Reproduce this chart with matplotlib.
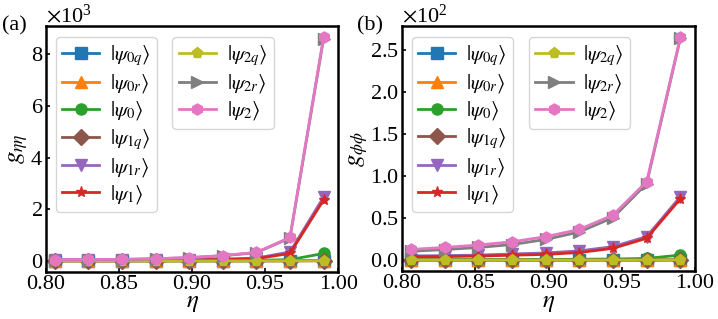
import matplotlib
matplotlib.use("Agg")
import matplotlib.pyplot as plt
from matplotlib.ticker import MultipleLocator

plt.rcParams['font.family'] = 'serif'
plt.rcParams['font.serif'] = ['Liberation Serif', 'DejaVu Serif']
plt.rcParams['mathtext.fontset'] = 'stix'

# eta grid
eta = [0.806, 0.829, 0.852, 0.875, 0.898, 0.921, 0.944, 0.967, 0.990]

# (a) g_eta_eta
ga_0q = [2, 2, 2, 3, 3, 4, 5, 7, 10]
ga_0r = [2, 2, 2, 3, 3, 4, 5, 7, 10]
ga_0 = [8, 9, 10, 12, 15, 20, 28, 50, 290]
ga_1q = [3, 3, 3, 4, 4, 5, 6, 8, 12]
ga_1r = [25, 28, 32, 38, 50, 70, 110, 350, 2470]
ga_1 = [20, 22, 25, 30, 40, 55, 90, 290, 2360]
ga_2q = [1, 1, 1, 2, 2, 3, 4, 5, 8]
ga_2r = [50, 52, 55, 85, 125, 200, 320, 890, 8600]
ga_2 = [55, 58, 62, 90, 130, 210, 330, 910, 8650]

# (b) g_phi_phi
gb_0q = [0.1, 0.1, 0.1, 0.1, 0.1, 0.1, 0.1, 0.1, 0.2]
gb_0r = [0.1, 0.1, 0.1, 0.1, 0.1, 0.1, 0.1, 0.1, 0.2]
gb_0 = [0.5, 0.5, 0.6, 0.7, 0.8, 1.0, 1.3, 2.0, 6.0]
gb_1q = [0.1, 0.1, 0.1, 0.1, 0.1, 0.1, 0.1, 0.1, 0.2]
gb_1r = [5.0, 5.3, 6.0, 7.3, 8.5, 11.0, 16.0, 28.0, 75.5]
gb_1 = [4.0, 4.2, 4.8, 5.8, 6.8, 9.0, 14.0, 26.0, 73.0]
gb_2q = [0.1, 0.1, 0.1, 0.1, 0.1, 0.1, 0.1, 0.1, 0.2]
gb_2r = [10.5, 12.5, 15.0, 18.5, 24.5, 33.5, 50.5, 91.0, 264.0]
gb_2 = [12.7, 15.1, 17.9, 21.8, 27.8, 36.5, 53.6, 93.3, 265.0]

labels = [r'$|\psi_{0q}\rangle$', r'$|\psi_{0r}\rangle$', r'$|\psi_{0}\rangle$',
          r'$|\psi_{1q}\rangle$', r'$|\psi_{1r}\rangle$', r'$|\psi_{1}\rangle$',
          r'$|\psi_{2q}\rangle$', r'$|\psi_{2r}\rangle$', r'$|\psi_{2}\rangle$']
colors = ['C0', 'C1', 'C2', 'C5', 'C4', 'C3', 'C8', 'C7', 'C6']
markers = ['s', '^', 'o', 'D', 'v', '*', 'p', '>', 'h']

fig = plt.figure(figsize=(7.18, 3.19), dpi=100)
ax1 = fig.add_axes([0.064, 0.147, 0.407, 0.771])
ax2 = fig.add_axes([0.560, 0.150, 0.408, 0.768])

panels = [
    (ax1, [ga_0q, ga_0r, ga_0, ga_1q, ga_1r, ga_1, ga_2q, ga_2r, ga_2], r'$g_{\eta\eta}$', 2000),
    (ax2, [gb_0q, gb_0r, gb_0, gb_1q, gb_1r, gb_1, gb_2q, gb_2r, gb_2], r'$g_{\phi\phi}$', 50),
]

leg_kw = dict(loc='upper left', fontsize=15, handlelength=1.8, handletextpad=0.5,
              labelspacing=0.2, borderpad=0.3, borderaxespad=0)

for ax, series, ylab, ystep in panels:
    lines = []
    for y, lab, c, m in zip(series, labels, colors, markers):
        ln, = ax.plot(eta, y, color=c, marker=m, ms=8, lw=2, label=lab)
        lines.append(ln)
    ax.set_xlim(0.8, 1.0)
    ax.set_xticks([0.80, 0.85, 0.90, 0.95, 1.00])
    ax.yaxis.set_major_locator(MultipleLocator(ystep))
    ax.ticklabel_format(axis='y', style='sci', scilimits=(0, 0), useMathText=True)
    ax.yaxis.get_offset_text().set_fontsize(16)
    ax.tick_params(direction='in', labelsize=16, width=1.2, length=3, pad=2)
    for s in ax.spines.values():
        s.set_linewidth(1.8)
    ax.set_xlabel(r'$\eta$', fontsize=18, labelpad=-1)
    ax.set_ylabel(ylab, fontsize=18, labelpad=0)
    leg1 = ax.legend(handles=lines[:6], bbox_to_anchor=(0.033, 0.955), **leg_kw)
    ax.add_artist(leg1)
    ax.legend(handles=lines[6:], bbox_to_anchor=(0.433, 0.955), **leg_kw)

fig.text(0.003, 0.905, '(a)', fontsize=16)
fig.text(0.497, 0.905, '(b)', fontsize=16)

fig.savefig('out.png', dpi=100)
